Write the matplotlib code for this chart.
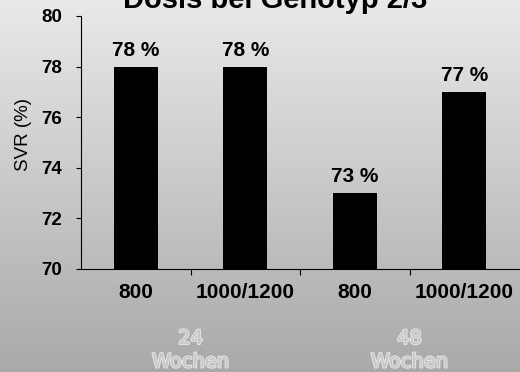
import matplotlib
matplotlib.use("Agg")
import matplotlib.pyplot as plt
import matplotlib.patheffects as pe
import numpy as np

plt.rcParams['font.family'] = ['Liberation Sans', 'DejaVu Sans']

doses = ["800", "1000/1200", "800", "1000/1200"]
svr = [78, 78, 73, 77]
groups = ["24\nWochen", "48\nWochen"]
group_pos = [0.5, 2.5]

fig = plt.figure(figsize=(5.2, 3.72), dpi=100)

# grey vertical gradient behind everything
bg = fig.add_axes([0, 0, 1, 1], zorder=-1)
grad = np.linspace(0, 1, 256).reshape(-1, 1)
bg.imshow(grad, aspect="auto", cmap=matplotlib.colors.LinearSegmentedColormap.from_list(
    "g", ["#e9e9e9", "#a9a9a9"]), extent=[0, 1, 0, 1], origin="upper")
bg.axis("off")

ax = fig.add_axes([0.156, 0.277, 0.842, 0.680])
ax.patch.set_alpha(0)
x = np.arange(len(svr))
ax.bar(x, svr, width=0.4, color="black")
for xi, v in zip(x, svr):
    ax.annotate(f"{v} %", (xi, v), xytext=(0, 5), textcoords="offset points",
                ha="center", va="bottom", fontsize=15, fontweight="bold")

ax.set_xlim(-0.5, 3.5)
ax.set_ylim(70, 80)
ax.set_yticks(range(70, 81, 2))
ax.set_xticks(x)
ax.set_xticklabels(doses, fontsize=15, fontweight="bold")
ax.set_xticks([0.5, 1.5, 2.5], minor=True)
ax.tick_params(axis="x", which="major", length=0, pad=10)
ax.tick_params(axis="x", which="minor", length=4, width=0.8)
ax.tick_params(axis="y", labelsize=13.5, length=3.6, width=0.8, pad=10)
for lbl in ax.get_yticklabels():
    lbl.set_fontweight("bold")
ax.set_ylabel("SVR (%)", fontsize=13.5)
ax.yaxis.set_label_coords(-0.112, 0.53)
for s in ["top", "right"]:
    ax.spines[s].set_visible(False)
ax.spines["left"].set_linewidth(0.8)
ax.spines["bottom"].set_linewidth(0.8)

for gx, gl in zip(group_pos, groups):
    ax.text(gx, -0.237, gl, transform=ax.get_xaxis_transform(), ha="center", va="top",
            fontsize=14, family="DejaVu Sans", color="#c6c6c6", linespacing=1.3,
            path_effects=[pe.withStroke(linewidth=1.6, foreground="#e2e2e2")])

fig.text(0.53, 0.978, "Dosis bei Genotyp 2/3", ha="center", va="baseline",
         fontsize=21, fontweight="bold")

fig.savefig("out.png", dpi=100)
